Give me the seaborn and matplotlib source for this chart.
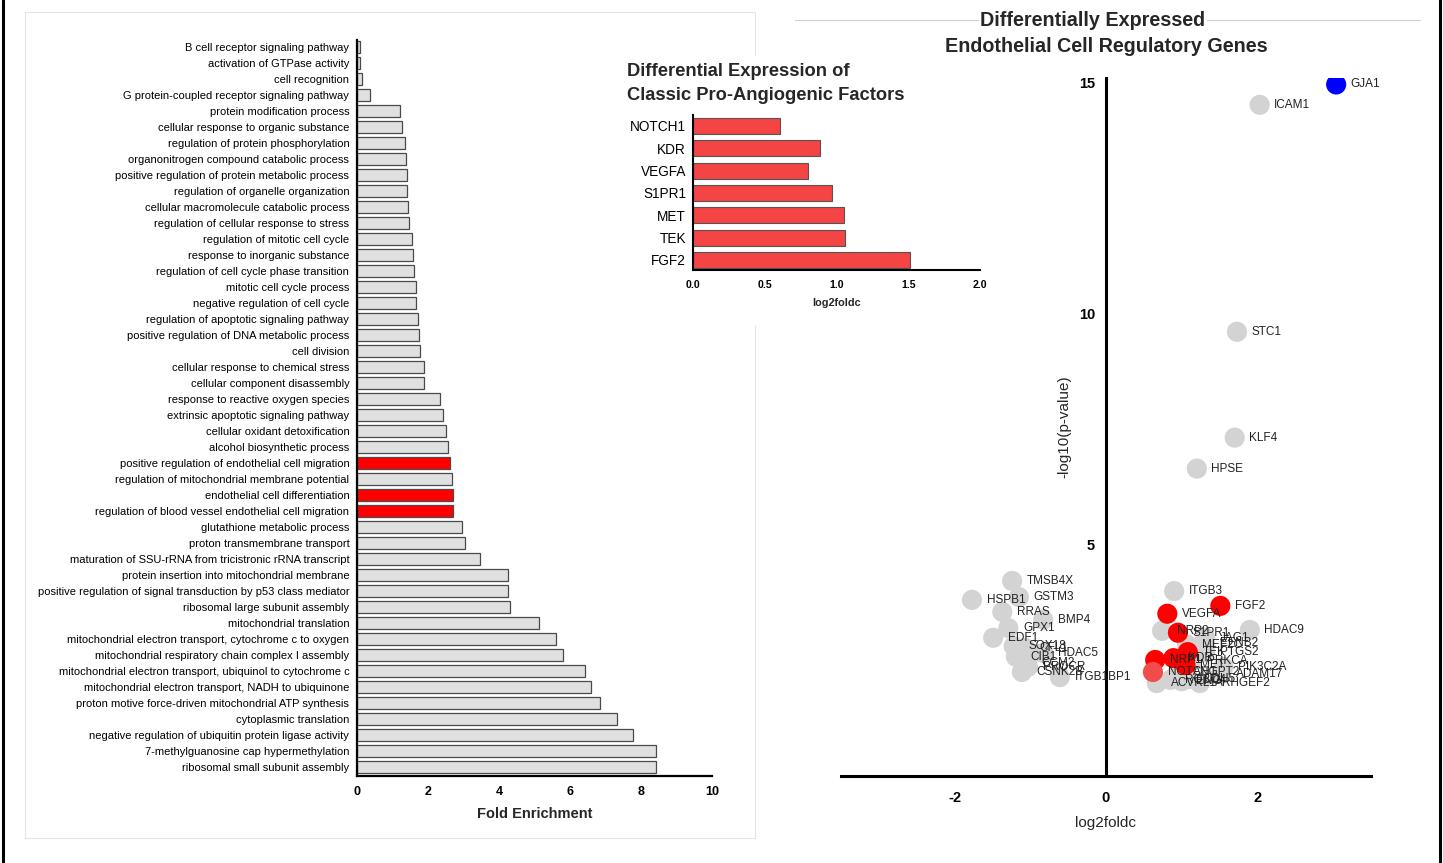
import matplotlib
matplotlib.use('Agg')
import matplotlib.pyplot as plt
import seaborn as sns
import pandas as pd
from matplotlib.patches import Rectangle
from matplotlib.lines import Line2D

sns.set_theme(style='white')
plt.rcParams['font.family'] = ['Liberation Sans', 'DejaVu Sans']
plt.rcParams['axes.unicode_minus'] = False

# ---------------- GO enrichment bar chart data ----------------
go_terms = [
    "B cell receptor signaling pathway",
    "activation of GTPase activity",
    "cell recognition",
    "G protein-coupled receptor signaling pathway",
    "protein modification process",
    "cellular response to organic substance",
    "regulation of protein phosphorylation",
    "organonitrogen compound catabolic process",
    "positive regulation of protein metabolic process",
    "regulation of organelle organization",
    "cellular macromolecule catabolic process",
    "regulation of cellular response to stress",
    "regulation of mitotic cell cycle",
    "response to inorganic substance",
    "regulation of cell cycle phase transition",
    "mitotic cell cycle process",
    "negative regulation of cell cycle",
    "regulation of apoptotic signaling pathway",
    "positive regulation of DNA metabolic process",
    "cell division",
    "cellular response to chemical stress",
    "cellular component disassembly",
    "response to reactive oxygen species",
    "extrinsic apoptotic signaling pathway",
    "cellular oxidant detoxification",
    "alcohol biosynthetic process",
    "positive regulation of endothelial cell migration",
    "regulation of mitochondrial membrane potential",
    "endothelial cell differentiation",
    "regulation of blood vessel endothelial cell migration",
    "glutathione metabolic process",
    "proton transmembrane transport",
    "maturation of SSU-rRNA from tricistronic rRNA transcript",
    "protein insertion into mitochondrial membrane",
    "positive regulation of signal transduction by p53 class mediator",
    "ribosomal large subunit assembly",
    "mitochondrial translation",
    "mitochondrial electron transport, cytochrome c to oxygen",
    "mitochondrial respiratory chain complex I assembly",
    "mitochondrial electron transport, ubiquinol to cytochrome c",
    "mitochondrial electron transport, NADH to ubiquinone",
    "proton motive force-driven mitochondrial ATP synthesis",
    "cytoplasmic translation",
    "negative regulation of ubiquitin protein ligase activity",
    "7-methylguanosine cap hypermethylation",
    "ribosomal small subunit assembly",
]
go_fold = [
    0.08, 0.08, 0.15, 0.37, 1.21, 1.27, 1.35, 1.38, 1.41, 1.41,
    1.44, 1.47, 1.55, 1.58, 1.61, 1.66, 1.66, 1.72, 1.75, 1.77,
    1.89, 1.88, 2.34, 2.42, 2.52, 2.56, 2.62, 2.68, 2.70, 2.71,
    2.96, 3.04, 3.46, 4.25, 4.25, 4.31, 5.13, 5.60, 5.80, 6.42,
    6.59, 6.85, 7.32, 7.77, 8.42, 8.42,
]
go_endothelial = [t in ("positive regulation of endothelial cell migration",
                        "endothelial cell differentiation",
                        "regulation of blood vessel endothelial cell migration")
                  for t in go_terms]

# ---------------- inset: classic pro-angiogenic factors ----------------
angio_genes = ["NOTCH1", "KDR", "VEGFA", "S1PR1", "MET", "TEK", "FGF2"]
angio_lfc = [0.606, 0.885, 0.801, 0.969, 1.052, 1.059, 1.512]

# ---------------- volcano plot data ----------------
volcano_genes = [
    "ICAM1", "STC1", "KLF4", "HPSE", "ITGB3", "HDAC9",
    "TMSB4X", "HSPB1", "GSTM3", "RRAS", "BMP4", "GPX1", "EDF1", "SOX18",
    "CFL1", "HDAC5", "CIB1", "CCM2", "PROCR", "CSNK2B", "ITGB1BP1",
    "NRP2", "JAG1", "MEF2C", "EFNB2", "PTGS2", "PRKCA", "PIK3C2A",
    "ANGPT2", "ADAM17", "ACVRL1", "ARHGEF2", "ENG", "CDH5", "ROBO4",
    "VEGFA", "FGF2", "S1PR1", "TEK", "KDR", "NRP1", "MET",
    "NOTCH1",
    "GJA1",
]
volcano_lfc = [
    2.03, 1.73, 1.70, 1.20, 0.90, 1.90,
    -1.24, -1.77, -1.15, -1.37, -0.83, -1.29, -1.49, -1.22,
    -1.07, -0.83, -1.19, -1.04, -1.03, -1.11, -0.61,
    0.74, 1.31, 1.07, 1.31, 1.31, 1.14, 1.55,
    0.95, 1.52, 0.67, 1.24, 1.00, 1.10, 0.85,
    0.81, 1.51, 0.95, 1.08, 0.89, 0.65, 1.05,
    0.62,
    3.04,
]
volcano_nlogp = [
    14.52, 9.61, 7.32, 6.65, 4.00, 3.16,
    4.22, 3.81, 3.87, 3.55, 3.38, 3.20, 2.99, 2.81,
    2.77, 2.66, 2.58, 2.45, 2.36, 2.25, 2.14,
    3.14, 2.99, 2.84, 2.88, 2.68, 2.49, 2.36,
    2.25, 2.20, 2.01, 2.01, 2.05, 2.10, 2.08,
    3.51, 3.68, 3.10, 2.68, 2.55, 2.51, 2.40,
    2.25,
    14.96,
]
volcano_group = (["other"] * 35 + ["angiogenic"] * 7 + ["angiogenic_faint"] + ["top"])

# ---------------- figure ----------------
fig = plt.figure(figsize=(14.43, 8.63), dpi=100)
W, H = 1443.0, 863.0

def fx(px):
    return px / W

def fy(py):
    return 1 - py / H

# panel frames / decorations
fig.add_artist(Rectangle((fx(25), fy(838)), fx(755) - fx(25), fy(12) - fy(838),
                         fill=False, edgecolor='#e4e4e4', lw=0.8, zorder=-3))
fig.add_artist(Rectangle((fx(612), fy(326)), fx(796) - fx(612), fy(56) - fy(326),
                         facecolor='white', edgecolor='none', zorder=-2))
fig.add_artist(Line2D([fx(795), fx(1420)], [fy(20), fy(20)], color='#cfcfcf', lw=0.8, zorder=-2))
fig.add_artist(Line2D([fx(3), fx(3)], [0, 1], color='black', lw=2.2))
fig.add_artist(Line2D([fx(1440), fx(1440)], [0, 1], color='black', lw=2.2))

# ---- right: volcano (drawn first, transparent background) ----
df_v = pd.DataFrame({"gene": volcano_genes, "lfc": volcano_lfc,
                     "nlogp": volcano_nlogp, "group": volcano_group})
ax3 = fig.add_axes([fx(841), fy(776), fx(1371) - fx(841), fy(78) - fy(776)])
ax3.patch.set_alpha(0)
sns.scatterplot(data=df_v, x="lfc", y="nlogp", hue="group",
                palette={"other": "#d3d3d3", "angiogenic": "#ff0000",
                         "angiogenic_faint": "#f24b4b", "top": "#0000ff"},
                s=210, linewidth=0, legend=False, ax=ax3)
for g, x, y in zip(volcano_genes, volcano_lfc, volcano_nlogp):
    ax3.annotate(g, (x, y), xytext=(10.5, 0), textcoords='offset points',
                 fontsize=8.5, color='#222222', ha='left', va='center', zorder=5)
ax3.set_xlim(-3.5, 3.5)
ax3.set_ylim(0, 15.1)
ax3.spines['left'].set_position(('data', 0))
for s in ("top", "right"):
    ax3.spines[s].set_visible(False)
for s in ("left", "bottom"):
    ax3.spines[s].set_linewidth(2.2)
    ax3.spines[s].set_color('black')
ax3.set_xticks([-2, 0, 2])
ax3.set_xticklabels(["-2", "0", "2"])
ax3.set_yticks(list(range(1, 16)))
ax3.set_yticklabels([str(v) if v % 5 == 0 else "" for v in range(1, 16)])
ax3.tick_params(axis='both', length=5, width=2, labelsize=10.5, colors='black')
ax3.tick_params(axis='x', pad=6)
ax3.tick_params(axis='y', pad=3)
for lab in ax3.get_xticklabels() + ax3.get_yticklabels():
    lab.set_fontweight('bold')
ax3.set_xlabel("log2foldc", fontsize=11, labelpad=8)
ax3.set_ylabel("-log10(p-value)", fontsize=11, labelpad=5)
fig.text(fx(1093), fy(21), "Differentially Expressed", fontsize=14.2, fontweight='bold',
         ha='center', va='center', bbox=dict(facecolor='white', edgecolor='none', pad=1))
fig.text(fx(1106), fy(47), "Endothelial Cell Regulatory Genes", fontsize=14.2,
         fontweight='bold', ha='center', va='center')

# ---- left: GO enrichment ----
df_go = pd.DataFrame({"term": go_terms, "fold": go_fold,
                      "group": ["endo" if e else "other" for e in go_endothelial]})
ax1 = fig.add_axes([fx(357), fy(776), fx(712) - fx(357), fy(40) - fy(776)])
ax1.patch.set_alpha(0)
sns.barplot(data=df_go, x="fold", y="term", hue="group",
            palette={"other": "#e0e0e0", "endo": "#ff0000"}, dodge=False,
            saturation=1, width=0.7, edgecolor='#4a4a4a', linewidth=0.9,
            legend=False, ax=ax1)
ax1.set_xlim(0, 10)
ax1.set_ylim(len(go_terms) - 0.44, -0.44)
ax1.set_xticks([0, 2, 4, 6, 8, 10])
for s in ("top", "right"):
    ax1.spines[s].set_visible(False)
for s in ("left", "bottom"):
    ax1.spines[s].set_linewidth(1.6)
    ax1.spines[s].set_color('black')
ax1.tick_params(axis='y', length=4.5, width=1.5, labelsize=8.0, pad=1, colors='black')
ax1.tick_params(axis='x', length=4.5, width=1.5, labelsize=9, pad=3, colors='black')
for lab in ax1.get_xticklabels():
    lab.set_fontweight('bold')
ax1.set_xlabel("Fold Enrichment", fontsize=10.5, fontweight='bold', labelpad=6)
ax1.set_ylabel("")

# ---- inset: pro-angiogenic factors ----
ax2 = fig.add_axes([fx(693), fy(270), fx(980) - fx(693), fy(115) - fy(270)])
ax2.set_zorder(4)
ax2.patch.set_alpha(0)
sns.barplot(x=angio_lfc, y=angio_genes, color='#f44444', saturation=1, width=0.72,
            edgecolor='#555555', linewidth=0.8, ax=ax2)
ax2.set_xlim(0, 2)
ax2.set_ylim(len(angio_genes) - 0.55, -0.49)
ax2.set_xticks([0, 0.5, 1.0, 1.5, 2.0])
ax2.set_xticklabels(["0.0", "0.5", "1.0", "1.5", "2.0"])
for s in ("top", "right"):
    ax2.spines[s].set_visible(False)
for s in ("left", "bottom"):
    ax2.spines[s].set_linewidth(1.5)
    ax2.spines[s].set_color('black')
ax2.tick_params(axis='y', length=4, width=1.3, labelsize=9.8, pad=1, colors='black')
ax2.tick_params(axis='x', length=4, width=1.3, labelsize=7.6, pad=3, colors='black')
for lab in ax2.get_xticklabels():
    lab.set_fontweight('bold')
ax2.set_xlabel("log2foldc", fontsize=7.8, fontweight='bold', labelpad=6)
fig.text(fx(627), fy(72), "Differential Expression of", fontsize=13.2, fontweight='bold',
         ha='left', va='center')
fig.text(fx(627), fy(95), "Classic Pro-Angiogenic Factors", fontsize=13.2, fontweight='bold',
         ha='left', va='center')

fig.savefig("out.png", dpi=100, facecolor='white')
